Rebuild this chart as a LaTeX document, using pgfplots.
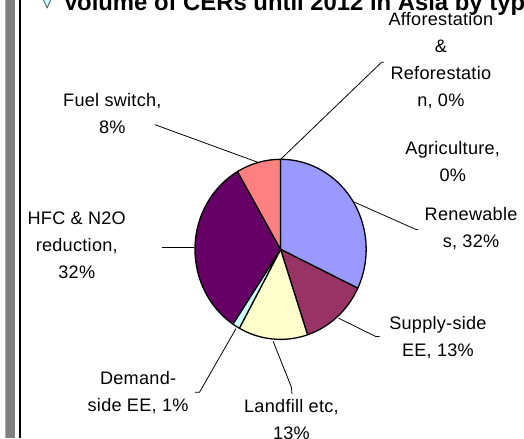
\documentclass[border=0pt]{standalone}
\usepackage{pgfplots}
\pgfplotsset{compat=1.18}
\usepackage{pgfplotstable}
\usepackage{fontspec}
\setmainfont{Liberation Sans}
\newfontfamily\lab[LetterSpace=1.5]{Liberation Sans}
\definecolor{slice0}{HTML}{9999FF}
\definecolor{slice1}{HTML}{993366}
\definecolor{slice2}{HTML}{FFFFCC}
\definecolor{slice3}{HTML}{CCFFFF}
\definecolor{slice4}{HTML}{660066}
\definecolor{slice5}{HTML}{FF8080}
\definecolor{barg}{HTML}{808080}
\pgfplotstableread[col sep=comma]{
name,value
Renewables,32.1
Supply-side EE,12.8
Landfill etc,13.1
Demand-side EE,1.4
HFC & N2O reduction,32.2
Fuel switch,8.4
Afforestation & Reforestation,0
Agriculture,0
}\piedata
\begin{document}
\def\cum{0}
\pgfplotsforeachungrouped \i in {0,...,7}{%
  \pgfplotstablegetelem{\i}{value}\of\piedata
  \pgfmathsetmacro\s{90-3.6*\cum}%
  \pgfmathsetmacro\cumnew{\cum+\pgfplotsretval}%
  \pgfmathsetmacro\e{90-3.6*\cumnew}%
  \expandafter\xdef\csname sa\i\endcsname{\s}%
  \expandafter\xdef\csname ea\i\endcsname{\e}%
  \global\let\cum\cumnew
}
\begin{tikzpicture}
\path[use as bounding box, clip] (0,0) rectangle (524pt,443pt);
\begin{axis}[at={(0,0)}, anchor=south west, scale only axis,
  width=524pt, height=443pt, xmin=0, xmax=524, ymin=-443, ymax=0,
  hide axis, clip=false]
% frame decorations
\fill[barg] (axis cs:0,0) rectangle (axis cs:10,-443);
\draw[line width=1.7pt] (axis cs:14.8,0) -- (axis cs:14.8,-443);
% title
\filldraw[fill=slice3, draw=black!70, line width=0.8pt] (axis cs:37.5,2) -- (axis cs:42,-8) -- (axis cs:46.5,2) -- (axis cs:42,12) -- cycle;
\node[anchor=base west, inner sep=0pt, font=\fontsize{24.1}{28}\selectfont\bfseries] at (axis cs:58,-11) {Volume of CERs until 2012 in Asia by type};
% pie slices
\pgfplotsinvokeforeach{0,...,5}{%
  \filldraw[fill=slice#1, draw=black, line width=1.3pt, line join=round]
    (axis cs:278,-252) -- ++(\csname sa#1\endcsname:86.5pt and 91pt)
    arc[start angle=\csname sa#1\endcsname, end angle=\csname ea#1\endcsname, x radius=86.5pt, y radius=91pt] -- cycle;
}
% leader lines
\draw[line width=0.8pt] (axis cs:278,-161) -- (axis cs:380,-63) -- (axis cs:382.5,-63);
\draw[line width=0.8pt] (axis cs:352,-204) -- (axis cs:415,-232) -- (axis cs:417,-232);
\draw[line width=0.8pt] (axis cs:336.5,-321.5) -- (axis cs:374,-340) -- (axis cs:378,-340);
\draw[line width=0.8pt] (axis cs:270.5,-345) -- (axis cs:289,-391.5) -- (axis cs:289.5,-398);
\draw[line width=0.8pt] (axis cs:233,-332) -- (axis cs:196,-396.5) -- (axis cs:191.5,-396.5);
\draw[line width=0.8pt] (axis cs:191,-250) -- (axis cs:158,-250);
\draw[line width=0.8pt] (axis cs:255,-164) -- (axis cs:151,-126);
% labels
\tikzset{lbl/.style={align=center, inner sep=0pt, font=\lab\fontsize{18.3}{27.3}\selectfont}}
\node[lbl] at (axis cs:440,-61.5) {Afforestation\\\&\\Reforestatio\\n, 0\%};
\node[lbl] at (axis cs:452,-163) {Agriculture,\\0\%};
\node[lbl] at (axis cs:470.5,-231) {Renewable\\s, 32\%};
\node[lbl] at (axis cs:437,-341) {Supply-side\\EE, 13\%};
\node[lbl] at (axis cs:289,-423.5) {Landfill etc,\\13\%};
\node[lbl] at (axis cs:134,-396.5) {Demand-\\side EE, 1\%};
\node[lbl] at (axis cs:72,-248) {HFC \& N2O\\reduction,\\32\%};
\node[lbl] at (axis cs:108,-115) {Fuel switch,\\8\%};
\end{axis}
\end{tikzpicture}
\end{document}
